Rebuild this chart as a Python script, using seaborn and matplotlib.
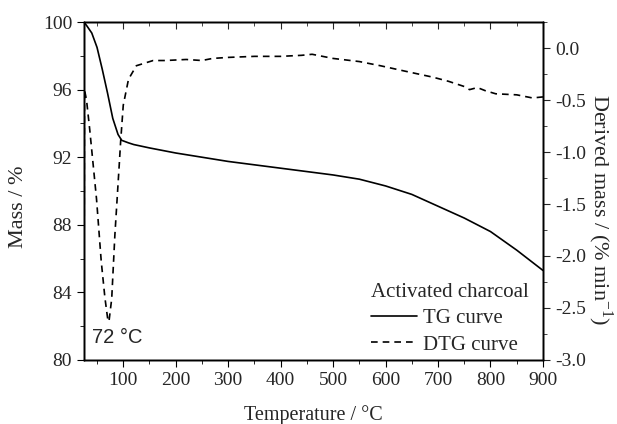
import matplotlib
matplotlib.use("Agg")
import matplotlib.pyplot as plt
import numpy as np
import seaborn as sns
from matplotlib.ticker import MultipleLocator
from matplotlib.lines import Line2D

# TG curve (mass, %)
tg_temp = [25, 30, 40, 50, 60, 70, 80, 90, 97, 110, 120, 150, 200, 250, 300,
           350, 400, 450, 500, 550, 600, 650, 700, 750, 800, 850, 900]
tg_mass = [100.0, 99.8, 99.35, 98.5, 97.2, 95.8, 94.3, 93.35, 93.0, 92.85, 92.75,
           92.55, 92.25, 92.0, 91.75, 91.55, 91.35, 91.15, 90.95, 90.7, 90.3,
           89.8, 89.1, 88.4, 87.6, 86.5, 85.3]

# DTG curve (derived mass, % min-1)
dtg_temp = [25, 26, 30, 36, 49, 58, 65, 71, 73, 78, 84, 92, 95, 100, 110, 125,
            157, 180, 220, 250, 270, 300, 350, 400, 440, 460, 480,
            500, 550, 590, 635, 690, 720, 750, 760, 775, 790, 810, 850, 880, 900]
dtg_val = [-3.3, -0.40, -0.50, -0.78, -1.45, -2.05, -2.40, -2.63, -2.62, -2.41,
           -1.80, -1.15, -0.90, -0.55, -0.30, -0.17, -0.12, -0.12,
           -0.11, -0.12, -0.10, -0.09, -0.08, -0.08, -0.07, -0.06, -0.08, -0.10,
           -0.13, -0.17, -0.22, -0.28, -0.32, -0.37, -0.40, -0.38, -0.41, -0.44,
           -0.45, -0.48, -0.47]

sns.set_style("ticks")
plt.rcParams["font.family"] = ["Liberation Serif", "DejaVu Serif"]
plt.rcParams["mathtext.fontset"] = "custom"
plt.rcParams["mathtext.rm"] = "Liberation Serif"

fig = plt.figure(figsize=(6.17, 4.24), dpi=100)
ax = fig.add_axes([0.136, 0.151, 0.744, 0.797])
ax2 = ax.twinx()
ax3 = ax.twiny()

sns.lineplot(x=tg_temp, y=tg_mass, ax=ax, color="black", linewidth=1.2)
sns.lineplot(x=dtg_temp, y=dtg_val, ax=ax2, color="black", linewidth=1.2,
             linestyle=(0, (4, 3)))

ax.set_xlim(25, 900)
ax3.set_xlim(25, 900)
ax.set_ylim(80, 100)
ax2.set_ylim(-3.0, 0.25)

ax.xaxis.set_major_locator(MultipleLocator(100))
ax.xaxis.set_minor_locator(MultipleLocator(50))
ax3.xaxis.set_major_locator(MultipleLocator(100))
ax3.xaxis.set_minor_locator(MultipleLocator(50))
ax.yaxis.set_major_locator(MultipleLocator(4))
ax.yaxis.set_minor_locator(MultipleLocator(2))
ax2.yaxis.set_minor_locator(MultipleLocator(0.25))
ticks_r = np.arange(-3.0, 0.01, 0.5)
ax2.set_yticks(ticks_r)
ax2.set_yticklabels([f"{v:.1f}" for v in ticks_r])

ax.tick_params(axis="both", which="both", direction="out", labelsize=14, color="black")
ax.tick_params(which="major", length=5)
ax.tick_params(which="minor", length=3)
ax2.tick_params(axis="y", which="both", direction="out", labelsize=14)
ax2.tick_params(which="major", length=5)
ax2.tick_params(which="minor", length=3)
ax3.tick_params(axis="x", which="both", direction="in", labeltop=False)
ax3.tick_params(which="major", length=5)
ax3.tick_params(which="minor", length=3)

for a in (ax, ax2, ax3):
    for s in a.spines.values():
        s.set_visible(True)
        s.set_linewidth(1.0)
        s.set_color("black")

ax.set_xlabel("Temperature / °C", fontsize=14.5, labelpad=12)
ax.set_ylabel("Mass / %", fontsize=16, ha="center", va="center")
ax.yaxis.set_label_coords(-0.142, 0.453)
ax2.set_ylabel("Derived mass / (% min$^{-1}$)", fontsize=16, rotation=270,
               ha="center", va="center")
ax2.yaxis.set_label_coords(1.124, 0.444)

ax.text(40, 81.0, "72 °C", fontsize=14.5, family="Liberation Sans")

handles = [Line2D([], [], color="black", linewidth=1.2),
           Line2D([], [], color="black", linewidth=1.2, linestyle=(0, (4, 3)))]
leg = ax.legend(handles, ["TG curve", "DTG curve"], title="Activated charcoal",
                loc="lower right", bbox_to_anchor=(0.987, -0.009),
                frameon=False, fontsize=15, title_fontsize=15,
                handlelength=2.2, borderaxespad=0.0, labelspacing=0.32,
                handletextpad=0.3)
leg._legend_box.align = "left"

fig.savefig("out.png", dpi=100)
